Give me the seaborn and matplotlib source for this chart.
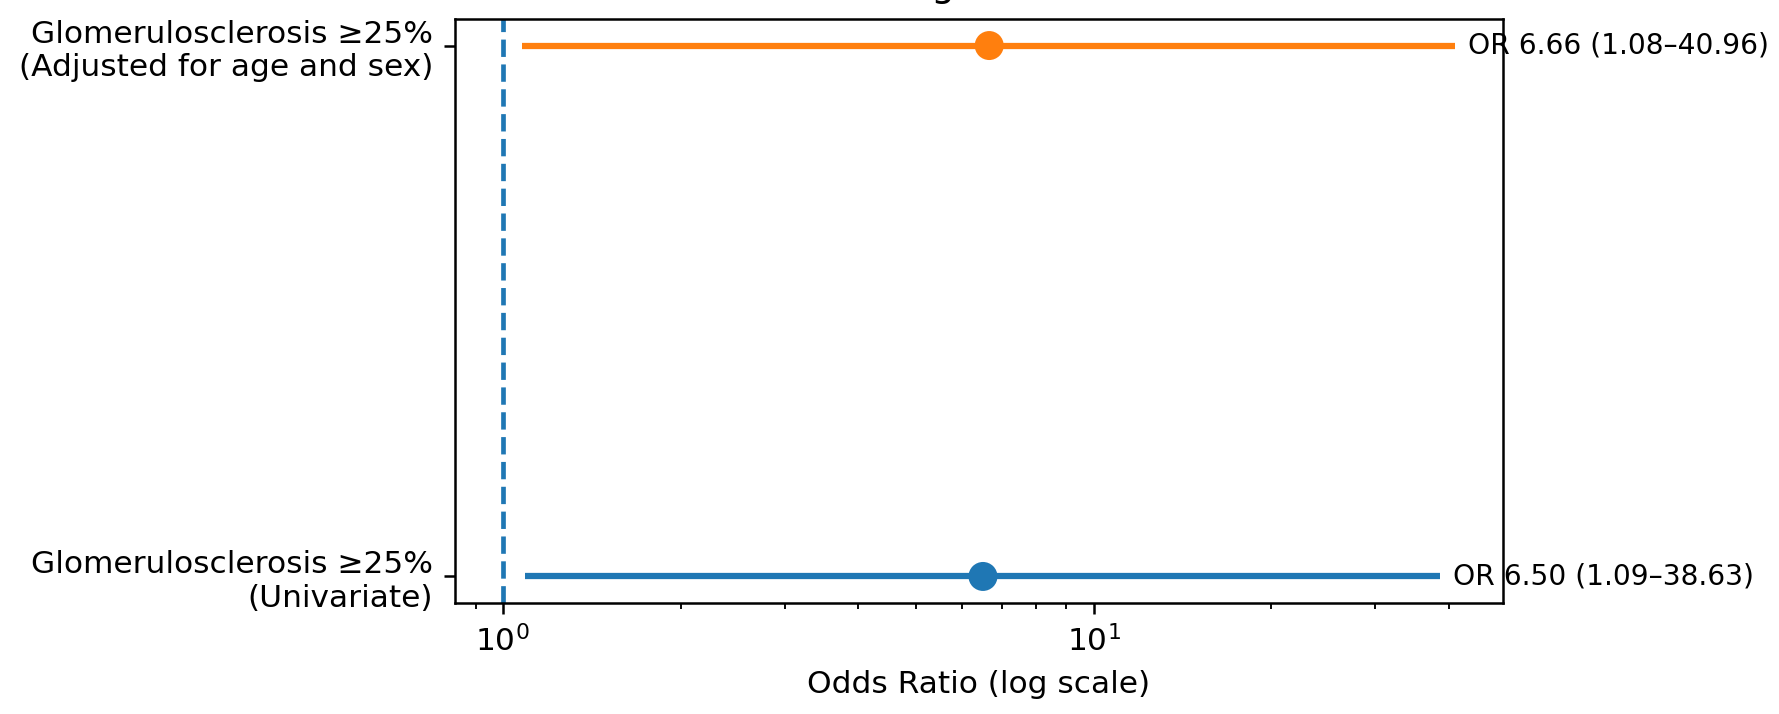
import matplotlib
matplotlib.use("Agg")
import matplotlib.pyplot as plt
import seaborn as sns
import pandas as pd

# forest plot values
models = ["Glomerulosclerosis ≥25%\n(Univariate)",
          "Glomerulosclerosis ≥25%\n(Adjusted for age and sex)"]
odds_ratio = [6.50, 6.66]
ci_low = [1.09, 1.08]
ci_high = [38.63, 40.96]
colors = ["#1f77b4", "#ff7f0e"]
title = "CKD Progression Risk"

df = pd.DataFrame({"model": models, "or": odds_ratio,
                   "lo": ci_low, "hi": ci_high, "pos": range(len(models))})

W, H, DPI = 1779, 714, 225
fig = plt.figure(figsize=(W / DPI, H / DPI), dpi=DPI)
ax = fig.add_axes([455 / W, (H - 603) / H, (1503 - 455) / W, (603 - 19) / H])

ax.axvline(1, color="#1f77b4", linestyle="--", lw=1.5)
for i, row in df.iterrows():
    ax.hlines(row["pos"], row["lo"], row["hi"], color=colors[i], lw=2)
sns.scatterplot(data=df, x="or", y="pos", hue="model", palette=colors,
                s=86, edgecolor="none", legend=False, zorder=3, ax=ax)
for i, row in df.iterrows():
    ax.text(row["hi"] * 1.05, row["pos"],
            f"OR {row['or']:.2f} ({row['lo']:.2f}–{row['hi']:.2f})",
            ha="left", va="center", fontsize=9)

ax.set_xscale("log")
ax.set_yticks(df["pos"])
ax.set_yticklabels(df["model"])
ax.set_xlabel("Odds Ratio (log scale)")
ax.set_ylabel("")
# the title sits mostly above the top edge, as in the reference crop
ax.set_title(title, pad=7.5)

fig.savefig("out.png", dpi=DPI)
